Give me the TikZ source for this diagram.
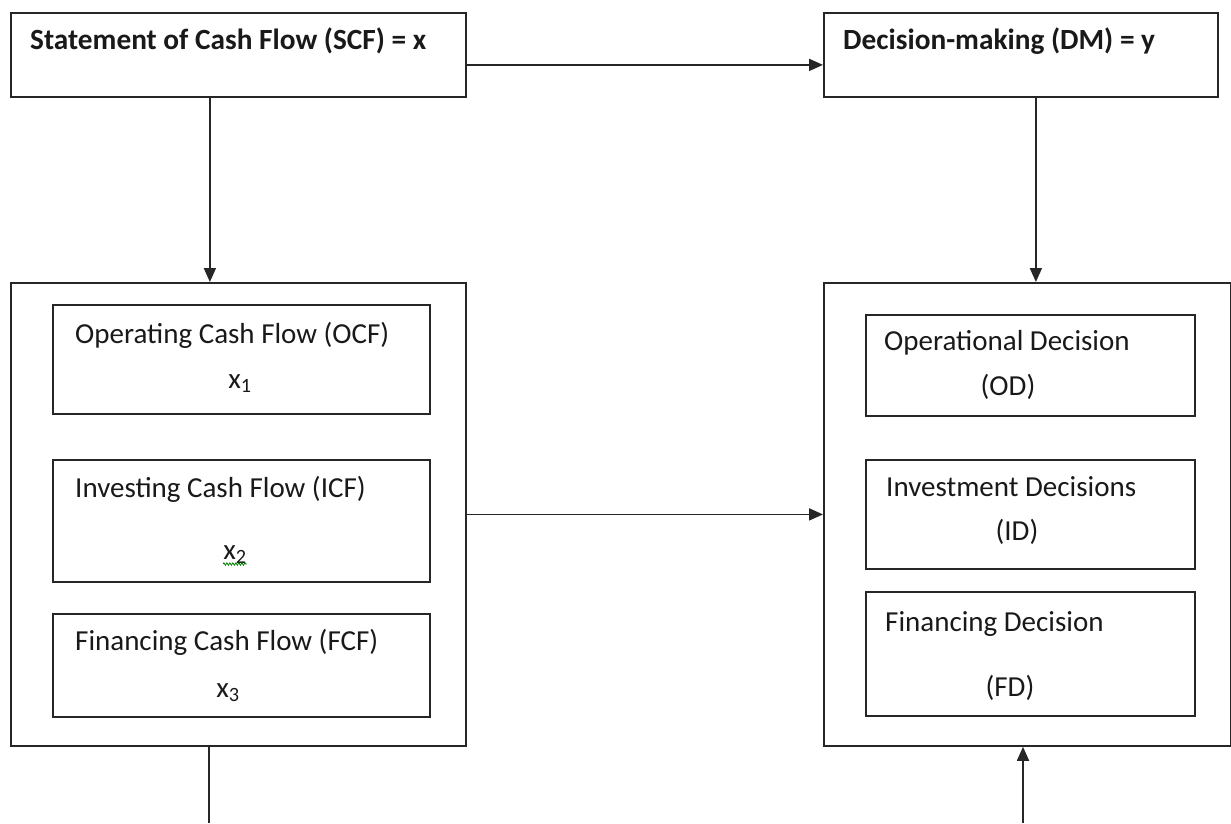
\documentclass[tikz,border=0pt]{standalone}
\usepackage{fontspec}
\setmainfont{Carlito}
\usetikzlibrary{arrows.meta,decorations.pathmorphing}
\tikzset{
  box/.style={draw=black!85, line width=1.8pt, anchor=north west, inner sep=0pt},
  txt/.style={inner sep=0pt, font=\fontsize{29}{33}\selectfont, text=black!90},
  btxt/.style={inner sep=0pt, font=\fontsize{29.3}{33}\selectfont\bfseries, text=black!90},
  arr/.style={line width=1.8pt, draw=black!85, -{Triangle[length=14pt,width=12pt]}},
  ln/.style={line width=1.8pt, draw=black!85}
}
\begin{document}
\begin{tikzpicture}[x=1pt,y=-1pt]
\useasboundingbox (0,0) rectangle (1231,823);
% top boxes
\node[box, minimum width=455pt, minimum height=84pt] (scf) at (10,12) {};
\node[box, minimum width=394pt, minimum height=84pt] (dm) at (823,12) {};
\node[btxt, anchor=base west] (scft) at (30,49) {Statement of Cash Flow (SCF) = x};
\node[btxt, anchor=base west] (dmt) at (843,49) {Decision-making (DM) = y};
% big boxes
\node[box, minimum width=455pt, minimum height=463pt] (scfbig) at (10,282) {};
\node[box, minimum width=407pt, minimum height=463pt] (dmbig) at (823,282) {};
% left inner boxes
\node[box, minimum width=377pt, minimum height=109pt] (ocf) at (52,304) {};
\node[box, minimum width=377pt, minimum height=122pt] (icf) at (52,459) {};
\node[box, minimum width=377pt, minimum height=103pt] (fcf) at (52,613) {};
\node[txt, anchor=base west] (ocft) at (75,343) {Operating Cash Flow (OCF)};
\node[txt, anchor=base] (ocfx) at (240,388) {x\textsubscript{1}};
\node[txt, anchor=base west] (icft) at (75,497) {Investing Cash Flow (ICF)};
\node[txt, anchor=base] (icfx) at (235,559) {x\textsubscript{2}};
\draw[green!50!black, line width=0.8pt, decorate, decoration={zigzag, amplitude=1.2pt, segment length=3pt}] ([yshift=-5pt]icfx.base west) -- ([yshift=-5pt]icfx.base east);
\node[txt, anchor=base west] (fcft) at (75,650) {Financing Cash Flow (FCF)};
\node[txt, anchor=base] (fcfx) at (228,697) {x\textsubscript{3}};
% right inner boxes
\node[box, minimum width=329pt, minimum height=101pt] (od) at (865,314) {};
\node[box, minimum width=329pt, minimum height=109pt] (id) at (865,459) {};
\node[box, minimum width=329pt, minimum height=124pt] (fd) at (865,591) {};
\node[txt, anchor=base west] (odt) at (884,350) {Operational Decision};
\node[txt, anchor=base] (odx) at (1008,395) {(OD)};
\node[txt, anchor=base west] (idt) at (886,496) {Investment Decisions};
\node[txt, anchor=base] (idx) at (1017,540) {(ID)};
\node[txt, anchor=base west] (fdt) at (885,631) {Financing Decision};
\node[txt, anchor=base] (fdx) at (1010,696) {(FD)};
% connectors
\draw[arr] ([yshift=-10pt]scf.east) -- ([yshift=-10pt]dm.west);
\draw[arr] ([xshift=-28.5pt]scf.south) -- ([xshift=-28.5pt]scf.south |- scfbig.north);
\draw[arr] ([xshift=15pt]dm.south) -- ([xshift=15pt]dm.south |- dmbig.north);
\draw[arr] (scfbig.east) -- (scfbig.east -| dmbig.west);
\coordinate (bl) at (209,823);
\coordinate (br) at (1023,823);
\draw[ln] (bl |- scfbig.south) -- (bl);
\draw[arr] (br) -- (br |- dmbig.south);
\end{tikzpicture}
\end{document}
